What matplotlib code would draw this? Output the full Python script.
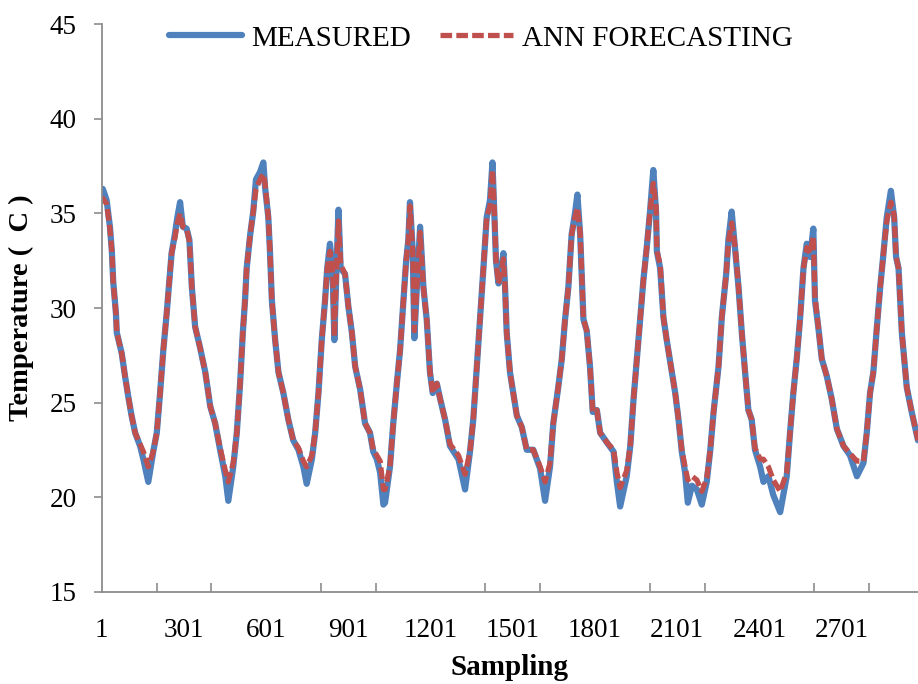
import matplotlib.pyplot as plt
from matplotlib.ticker import FixedLocator

plt.rcParams['font.family'] = ['Liberation Serif', 'DejaVu Serif']

# sample index
sample = [
    1, 5, 19, 31, 38, 43, 53, 56, 74, 86, 98, 110, 123, 141, 153, 171, 189, 202,
    214, 226, 238, 250, 256, 268, 277, 287, 297, 311, 321, 330, 342, 360, 379,
    397, 415, 433, 452, 463, 481, 494, 506, 516, 524, 530, 543, 554, 564, 579,
    591, 597, 609, 615, 622, 634, 646, 664, 682, 700, 719, 737, 749, 768, 780,
    792, 804, 816, 824, 834, 844, 850, 856, 865, 873, 889, 901, 914, 926, 944,
    962, 980, 992, 1005, 1017, 1029, 1035, 1053, 1065, 1078, 1090, 1102, 1112,
    1120, 1126, 1136, 1142, 1151, 1163, 1175, 1187, 1199, 1209, 1224, 1236,
    1254, 1272, 1303, 1327, 1345, 1357, 1370, 1382, 1394, 1406, 1418, 1427,
    1433, 1440, 1449, 1457, 1467, 1473, 1479, 1491, 1503, 1516, 1534, 1552,
    1576, 1601, 1619, 1637, 1649, 1667, 1680, 1692, 1704, 1716, 1728, 1737,
    1747, 1759, 1771, 1783, 1793, 1808, 1820, 1844, 1869, 1881, 1893, 1917,
    1930, 1942, 1954, 1966, 1978, 1990, 2002, 2014, 2024, 2027, 2039, 2051,
    2063, 2082, 2094, 2106, 2118, 2130, 2140, 2155, 2173, 2191, 2209, 2222,
    2234, 2252, 2264, 2280, 2288, 2300, 2313, 2325, 2337, 2349, 2361, 2373,
    2385, 2404, 2416, 2434, 2452, 2477, 2501, 2513, 2525, 2538, 2550, 2562,
    2574, 2586, 2598, 2604, 2616, 2629, 2647, 2665, 2684, 2708, 2732, 2757,
    2781, 2793, 2805, 2817, 2830, 2842, 2854, 2866, 2881, 2893, 2900, 2909,
    2921, 2939, 2957, 2980,
]

measured = [
    36.0, 36.3, 35.7, 34.3, 33.0, 31.4, 29.7, 28.7, 27.6, 26.4, 25.3, 24.3, 23.4,
    22.7, 22.0, 20.8, 22.4, 23.4, 25.5, 27.8, 29.7, 31.8, 32.9, 33.9, 34.8, 35.6,
    34.3, 34.2, 33.6, 31.1, 29.0, 27.9, 26.6, 24.8, 23.9, 22.5, 21.1, 19.8, 21.6,
    23.4, 26.0, 28.7, 30.4, 32.1, 33.9, 35.1, 36.8, 37.2, 37.7, 36.4, 34.8, 33.0,
    30.4, 28.3, 26.6, 25.5, 24.1, 23.0, 22.5, 21.6, 20.7, 22.0, 23.4, 25.5, 28.3,
    30.4, 32.1, 33.4, 31.8, 28.3, 31.3, 35.2, 32.1, 31.8, 30.1, 28.7, 26.9, 25.7,
    23.9, 23.4, 22.4, 22.0, 21.3, 19.6, 19.7, 21.6, 23.9, 26.0, 27.8, 30.4, 32.5,
    33.6, 35.6, 33.0, 28.4, 31.1, 34.3, 31.1, 29.4, 26.6, 25.5, 26.0, 25.2, 24.1,
    22.7, 22.0, 20.4, 22.4, 24.1, 26.9, 29.5, 32.1, 34.8, 35.7, 37.7, 35.3, 32.5,
    31.3, 31.8, 32.9, 31.1, 28.7, 26.6, 25.5, 24.3, 23.7, 22.5, 22.5, 21.5, 19.8,
    21.6, 23.9, 25.8, 27.3, 29.4, 31.1, 33.9, 35.0, 36.0, 33.9, 29.4, 28.8, 26.9,
    24.5, 24.6, 23.4, 22.9, 22.4, 20.8, 19.5, 21.1, 22.7, 25.2, 27.3, 29.4, 31.5,
    33.2, 35.1, 37.3, 35.1, 33.0, 32.1, 29.5, 28.3, 26.6, 25.5, 24.1, 22.4, 21.3,
    19.7, 20.6, 20.4, 19.6, 20.8, 22.5, 24.5, 26.9, 29.5, 31.8, 33.6, 35.1, 33.0,
    31.1, 28.7, 26.6, 24.6, 24.1, 22.5, 21.6, 20.8, 21.1, 20.1, 19.2, 21.1, 23.4,
    25.5, 27.4, 29.5, 32.1, 33.4, 32.7, 34.2, 30.4, 29.0, 27.3, 26.4, 25.2, 23.6,
    22.7, 22.2, 21.1, 21.8, 23.4, 25.5, 26.6, 29.0, 31.1, 32.9, 34.8, 36.2, 34.8,
    32.7, 32.1, 28.7, 25.8, 24.5, 23.0,
]

forecast = [
    35.6, 35.8, 35.5, 34.2, 33.0, 31.4, 29.7, 28.7, 27.6, 26.4, 25.3, 24.3, 23.4,
    22.8, 22.4, 21.6, 22.4, 23.4, 25.5, 27.8, 29.7, 31.8, 32.9, 33.7, 34.5, 35.0,
    34.3, 34.2, 33.5, 31.1, 29.0, 27.9, 26.6, 24.8, 23.9, 22.6, 21.4, 20.8, 21.8,
    23.4, 26.0, 28.7, 30.4, 32.1, 33.9, 35.1, 36.3, 36.8, 37.1, 36.6, 34.8, 33.0,
    30.4, 28.3, 26.6, 25.5, 24.1, 23.0, 22.6, 21.9, 21.6, 22.2, 23.4, 25.5, 28.3,
    30.4, 32.1, 33.0, 31.8, 28.5, 31.3, 34.6, 32.3, 31.8, 30.1, 28.7, 26.9, 25.7,
    23.9, 23.4, 22.5, 22.2, 21.9, 20.4, 20.4, 21.6, 23.9, 26.0, 27.8, 30.4, 32.5,
    33.6, 35.4, 33.0, 28.8, 31.1, 34.0, 31.1, 29.4, 26.6, 25.5, 26.0, 25.2, 24.1,
    22.8, 22.2, 21.2, 22.4, 24.1, 26.9, 29.5, 32.1, 34.8, 35.4, 37.3, 35.5, 32.5,
    31.3, 31.8, 32.6, 31.1, 28.7, 26.6, 25.5, 24.3, 23.7, 22.5, 22.5, 21.6, 20.8,
    21.8, 23.9, 25.8, 27.3, 29.4, 31.1, 33.9, 34.8, 35.3, 34.0, 29.4, 28.8, 26.9,
    24.5, 24.6, 23.4, 22.9, 22.5, 21.3, 20.5, 21.4, 22.7, 25.2, 27.3, 29.4, 31.5,
    33.2, 35.1, 36.6, 35.4, 33.0, 32.3, 29.5, 28.3, 26.6, 25.5, 24.1, 22.5, 21.6,
    20.9, 21.1, 20.9, 20.3, 21.0, 22.5, 24.5, 26.9, 29.5, 31.8, 33.5, 34.5, 33.2,
    31.1, 28.7, 26.6, 24.6, 24.1, 22.6, 22.0, 22.0, 21.6, 20.9, 20.3, 21.3, 23.4,
    25.5, 27.4, 29.5, 32.1, 33.2, 32.9, 33.8, 30.6, 29.0, 27.3, 26.4, 25.2, 23.6,
    22.7, 22.3, 21.9, 21.9, 23.4, 25.5, 26.6, 29.0, 31.1, 32.9, 34.6, 35.6, 34.9,
    32.7, 32.1, 28.7, 25.8, 24.5, 23.0,
]

label_ticks = [1, 301, 601, 901, 1201, 1501, 1801, 2101, 2401, 2701]
mark_ticks = [201, 401, 601, 801, 1001, 1201, 1401, 1601, 1801, 2001, 2201,
              2401, 2601, 2801]

blue = '#4F81BD'
red = '#C0504D'
axis_grey = '#8C8C8C'

fig = plt.figure(figsize=(9.18, 6.84), dpi=100)
ax = fig.add_axes([0.1108, 0.1352, 0.8892, 0.829])

ax.plot(sample, measured, color=blue, lw=4.5, solid_capstyle='round',
        solid_joinstyle='round', label='MEASURED')
ax.plot(sample, forecast, color=red, lw=3.8, dashes=(2.2, 0.8),
        label='ANN FORECASTING')

ax.set_xlim(1, 2980)
ax.set_ylim(15, 45)
ax.set_yticks(range(15, 46, 5))

ax.xaxis.set_major_locator(FixedLocator(label_ticks))
ax.xaxis.set_minor_locator(FixedLocator(mark_ticks))
ax.tick_params(axis='x', which='major', length=0, pad=19, labelsize=19.5)
ax.tick_params(axis='x', which='minor', direction='in', length=6.5,
               width=1.2, color=axis_grey)
ax.tick_params(axis='y', direction='out', length=6, width=1.2,
               color=axis_grey, pad=12, labelsize=19.5)

for side in ['top', 'right']:
    ax.spines[side].set_visible(False)
for side in ['left', 'bottom']:
    ax.spines[side].set_color(axis_grey)
    ax.spines[side].set_linewidth(1.3)

ax.set_xlabel('Sampling', fontsize=21, fontweight='bold', labelpad=8)
ax.set_ylabel('Temperature (  C )', fontsize=20.5, fontweight='bold',
              labelpad=11)

fig.legend(loc='center', bbox_to_anchor=(0.524, 0.944), ncol=2,
           frameon=False, fontsize=21, handlelength=2.5, handletextpad=0.3,
           columnspacing=1.0)

fig.savefig('out.png', dpi=100)
